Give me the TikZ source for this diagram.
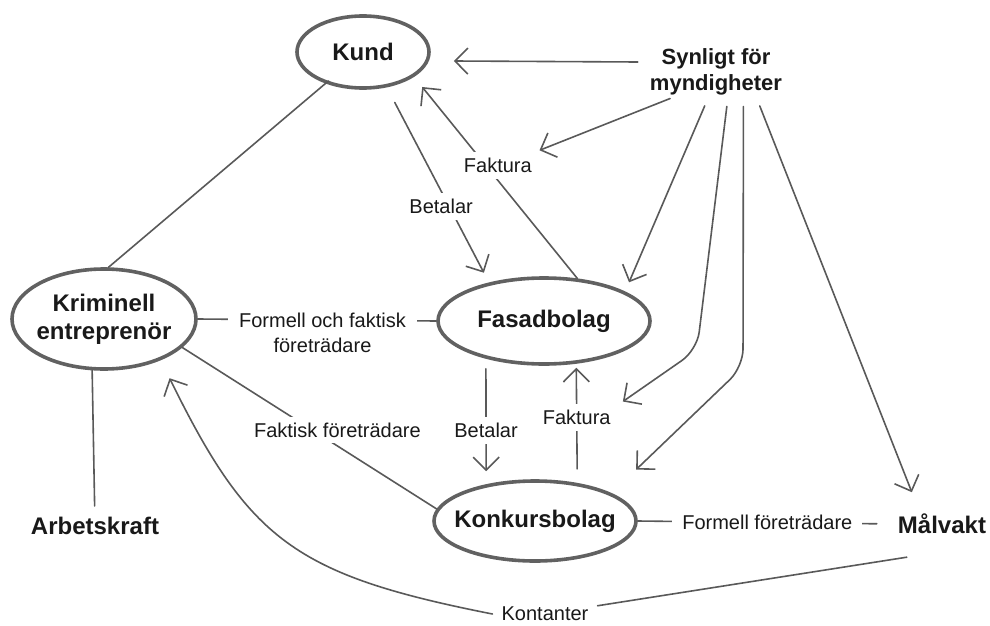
\documentclass[tikz,border=0pt]{standalone}
\usepackage{fontspec}
\setmainfont{Liberation Sans}
\usepackage{tikz}
\usetikzlibrary{calc,positioning,shapes.geometric,arrows.meta}

\newcommand{\lblfont}{\fontsize{20}{24}\selectfont}
\newcommand{\partyfont}{\fontsize{24}{28}\selectfont\bfseries}
\newcommand{\nowidth}[1]{\makebox[0pt]{#1}}

\begin{document}
\begin{tikzpicture}[
    x=1pt, y=-1pt,
    line cap=round,
    line join=round,
    %styles
    company/.style={ellipse, draw=ringcolor, line width=3.6pt, inner sep=0pt,
        align=center, font=\partyfont, text=textcolor},
    party/.style={inner sep=3pt, align=center, font=\partyfont, text=textcolor},
    link/.style={draw=linecolor, line width=1.6pt},
    flow/.style={link, -{Straight Barb[length=13pt,width=26pt]}},
    edge label/.style={fill=white, inner xsep=9pt, inner ysep=6pt,
        font=\lblfont, text=textcolor},
  ]
  %colors
  \colorlet{linecolor}{black!65}
  \colorlet{ringcolor}{black!62}
  \colorlet{textcolor}{black!90}
  \useasboundingbox (0,0) rectangle (990,626);

  \node[company, minimum width=132pt, minimum height=72pt] (kund) at (363,52) {\nowidth{Kund}};
  \node[company, minimum width=212pt, minimum height=86pt] (fasad) at (544,321) {\nowidth{Fasadbolag}};
  \node[company, minimum width=184pt, minimum height=100pt] (krim) at (104,319)
  {\nowidth{Kriminell}\\\nowidth{entreprenör}};
  \node[company, minimum width=202pt, minimum height=80pt] (konkurs) at (535,521) {\nowidth{Konkursbolag}};
  \node[party] (arbets) at (95,526) {Arbetskraft};
  \node[party, font=\fontsize{22}{26}\selectfont\bfseries, inner xsep=10pt] (synligt) at (716,72)
  {Synligt för\\myndigheter};
  \node[party] (malvakt) at (942,524) {Målvakt};
  \node[edge label] (kontanter) at (545,614) {Kontanter};

  %betalning och faktura
  \draw[flow, shorten <=17pt, shorten >=11pt] (kund.-56)
  -- node[edge label, pos=0.61, xshift=-8pt] (betalarA) {Betalar} (fasad.145);
  \draw[flow, shorten >=13pt] (fasad.52)
  -- node[edge label, pos=0.56, xshift=12pt] (fakturaA) {Faktura} (kund.-26);
  \draw[flow, shorten <=10pt, shorten >=13pt] (fasad.-147)
  -- node[edge label, pos=0.57] (betalarB) {Betalar} (konkurs.143);
  \draw[flow, shorten <=14pt, shorten >=4pt] (konkurs.42)
  -- node[edge label, pos=0.55] (fakturaB) {Faktura} (fasad.-53);

  %företrädare
  \draw[link] (krim.east)
  -- node[edge label, pos=0.523, inner xsep=11pt] (formell) {Formell och faktisk} (fasad.west);
  \node[inner sep=0pt, font=\lblfont, text=textcolor, below=4pt of formell] (foretradare) {företrädare};
  \draw[link] (krim.-20)
  -- node[edge label, pos=0.61, yshift=16pt] (faktisk) {Faktisk företrädare} (konkurs.173);
  \draw[link, shorten >=18pt] (konkurs.east)
  -- node[edge label, pos=0.504, inner xsep=10pt] (formellB) {Formell företrädare} (malvakt.west);
  \draw[link, shorten <=-4pt] (kund.-140) -- (krim.85);
  \draw[link, shorten >=8pt] (krim.-103) -- (arbets);

  %kontanter
  \draw[link] ($(malvakt.south west)+(12,20)$) -- (kontanter);
  \draw[flow, shorten >=20pt] (kontanter.west) .. controls (295,575) and (249,540) .. (krim.-36);

  %synligt för myndigheter
  \draw[flow] ($(synligt.west)+(-2,-10)$) -- ($(kund.east)+(23,9)$);
  \draw[flow, shorten >=3pt] (synligt.-150) -- (fakturaA.20);
  \draw[flow, shorten <=8pt, shorten >=10pt] (synligt.-107) -- (fasad.20);
  \draw[flow, shorten <=8pt, shorten >=3pt, rounded corners=18pt]
  (synligt.-66) -- (697,350) -- (fakturaB.north east);
  \draw[flow, shorten <=8pt, shorten >=34pt, rounded corners=18pt]
  (synligt.-44) -- (743,367) -- (konkurs.20);
  \draw[flow, shorten <=8pt, shorten >=20pt] (synligt.-33) -- (malvakt.150);
\end{tikzpicture}
\end{document}
